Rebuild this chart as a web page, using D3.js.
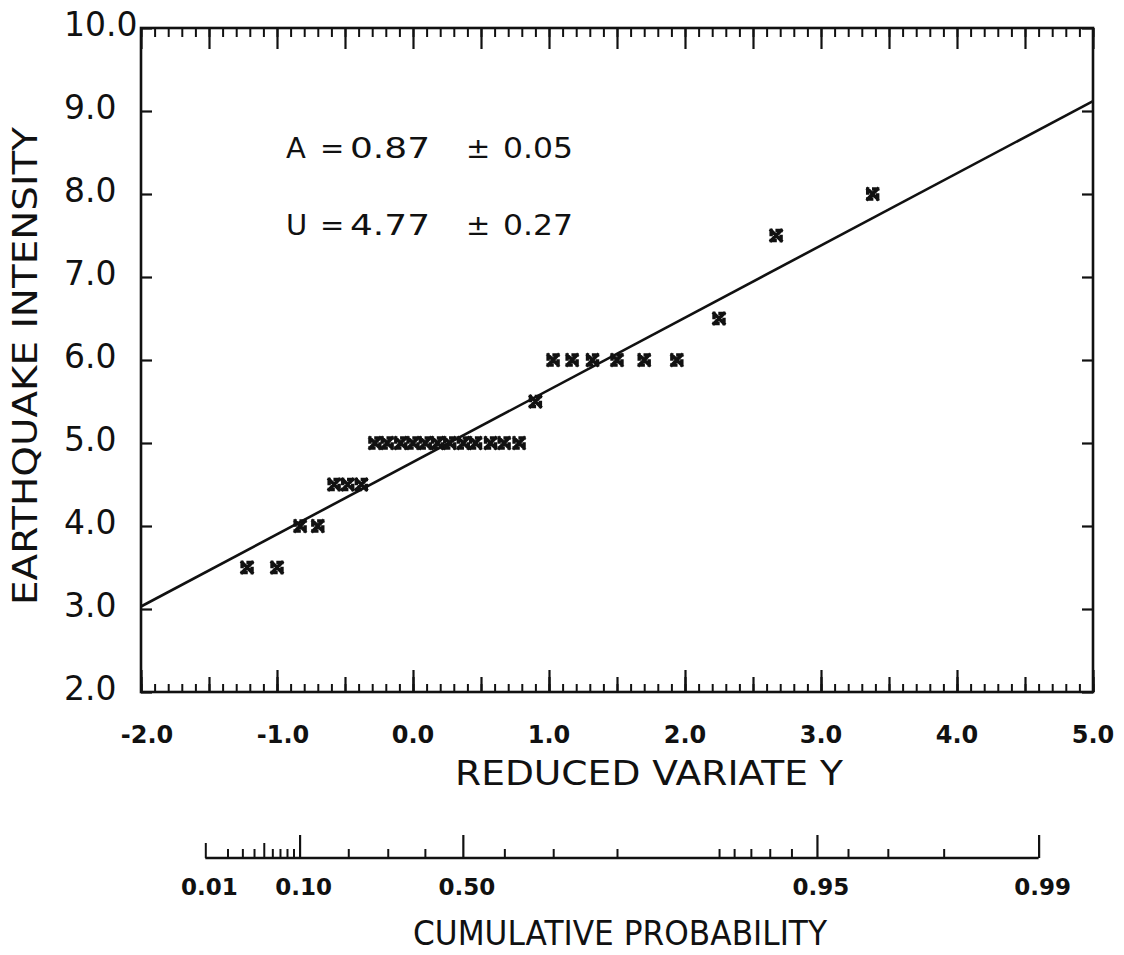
<!DOCTYPE html>
<html>
<head>
<meta charset="utf-8">
<script src="https://cdn.jsdelivr.net/npm/d3@7/dist/d3.min.js"></script>
<style>
  html, body { margin: 0; padding: 0; background: #fff; }
  svg { display: block; }
  text { font-family: "DejaVu Sans", sans-serif; fill: #111; }
</style>
</head>
<body>
<svg id="chart" width="1124" height="955"></svg>
<script>
// ---------------- DATA ----------------
const reducedVariate = [-1.22, -1.00, -0.83, -0.70, -0.58, -0.48, -0.38,
  -0.28, -0.19, -0.09, 0.00, 0.09, 0.18, 0.27, 0.37, 0.46, 0.57, 0.67, 0.78,
  0.90, 1.03, 1.17, 1.32, 1.50, 1.70, 1.94, 2.25, 2.67, 3.38];
// Earthquake intensity of each observation
const intensity = [3.5, 3.5, 4.0, 4.0, 4.5, 4.5, 4.5,
  5.0, 5.0, 5.0, 5.0, 5.0, 5.0, 5.0, 5.0, 5.0, 5.0, 5.0, 5.0,
  5.5, 6.0, 6.0, 6.0, 6.0, 6.0, 6.0, 6.5, 7.5, 8.0];
// Fitted line parameters (shown on the chart)
const fitA = 0.87, fitU = 4.77;
const annotations = ["A", "=", "0.87", "±", "0.05", "U", "=", "4.77", "±", "0.27"];
// Axis ticks and labels
const xTickValues = [-2, -1, 0, 1, 2, 3, 4, 5];
const xTickLabels = ["-2.0", "-1.0", "0.0", "1.0", "2.0", "3.0", "4.0", "5.0"];
const yTickValues = [2, 3, 4, 5, 6, 7, 8, 9, 10];
const yTickLabels = ["2.0", "3.0", "4.0", "5.0", "6.0", "7.0", "8.0", "9.0", "10.0"];
// Cumulative probability scale ticks
const probMinorTicks = [0.02, 0.03, 0.04, 0.06, 0.07, 0.08, 0.09, 0.2, 0.3, 0.4, 0.6, 0.7, 0.8,
  0.9, 0.91, 0.92, 0.93, 0.94, 0.96, 0.97, 0.98];
const probMidTicks = [0.01, 0.05];
const probMajorTicks = [0.10, 0.50, 0.95, 0.99];
const probLabelValues = [0.01, 0.10, 0.50, 0.95, 0.99];
const probLabels = ["0.01", "0.10", "0.50", "0.95", "0.99"];
const xTitle = "REDUCED VARIATE Y";
const yTitle = "EARTHQUAKE INTENSITY";
const probTitle = "CUMULATIVE PROBABILITY";

// ---------------- CHART ----------------
const svg = d3.select("#chart");
const L = 141, R = 1093, T = 28, B = 692;
const x = d3.scaleLinear().domain([-2, 5]).range([L, R]);
const y = d3.scaleLinear().domain([2, 10]).range([B, T]);
const gumbel = p => -Math.log(-Math.log(p));

function styleAxis(g, w) {
  g.select(".domain").remove();
  g.selectAll(".tick line").attr("stroke", "#111").attr("stroke-width", w);
  g.selectAll(".tick text").remove();
}

const minorX = d3.range(-20, 51).map(i => i / 10);
const halfX = d3.range(-4, 11).map(i => i / 2);

// top axis (ticks pointing down)
svg.append("g").attr("transform", `translate(0,${T})`)
  .call(d3.axisBottom(x).tickValues(minorX).tickSize(9).tickFormat(""))
  .call(g => styleAxis(g, 2));
svg.append("g").attr("transform", `translate(0,${T})`)
  .call(d3.axisBottom(x).tickValues(halfX).tickSize(21).tickFormat(""))
  .call(g => styleAxis(g, 2.2));
// bottom axis (ticks pointing up)
svg.append("g").attr("transform", `translate(0,${B})`)
  .call(d3.axisTop(x).tickValues(minorX).tickSize(8).tickFormat(""))
  .call(g => styleAxis(g, 2));
svg.append("g").attr("transform", `translate(0,${B})`)
  .call(d3.axisTop(x).tickValues(halfX).tickSize(15).tickFormat(""))
  .call(g => styleAxis(g, 2.2));
svg.append("g").attr("transform", `translate(0,${B})`)
  .call(d3.axisTop(x).tickValues(xTickValues).tickSize(22).tickFormat(""))
  .call(g => styleAxis(g, 2.2));
// left / right axes
svg.append("g").attr("transform", `translate(${L},0)`)
  .call(d3.axisRight(y).tickValues(yTickValues).tickSize(11).tickFormat(""))
  .call(g => styleAxis(g, 2.2));
svg.append("g").attr("transform", `translate(${R},0)`)
  .call(d3.axisLeft(y).tickValues(yTickValues).tickSize(11).tickFormat(""))
  .call(g => styleAxis(g, 2.2));

// frame
svg.append("rect").attr("x", L).attr("y", T).attr("width", R - L).attr("height", B - T)
  .attr("fill", "none").attr("stroke", "#111").attr("stroke-width", 2.6);

// y tick labels
svg.append("g").selectAll("text").data(yTickValues).join("text")
  .attr("x", 64).attr("y", d => y(d) + 8)
  .attr("font-size", 33)
  .text((d, i) => yTickLabels[i]);

// x tick labels
svg.append("g").selectAll("text").data(xTickValues).join("text")
  .attr("x", d => x(d) + (d < 0 ? 6 : 0)).attr("y", 743)
  .attr("text-anchor", "middle").attr("font-size", 24).attr("font-weight", "bold")
  .text((d, i) => xTickLabels[i]);

// axis titles
svg.append("text").attr("x", 455).attr("y", 785)
  .attr("font-size", 34).attr("textLength", 388).attr("lengthAdjust", "spacingAndGlyphs")
  .text(xTitle);
svg.append("text").attr("transform", "translate(37,605) rotate(-90)")
  .attr("font-size", 33).attr("textLength", 478).attr("lengthAdjust", "spacingAndGlyphs")
  .text(yTitle);

// fitted line
svg.append("line")
  .attr("x1", x(-2)).attr("y1", y(fitU + fitA * -2))
  .attr("x2", x(5)).attr("y2", y(fitU + fitA * 5))
  .attr("stroke", "#111").attr("stroke-width", 2.6);

// markers
const markerPath = "M-5,-5L5,5M-5,5L5,-5M-5,-5L-5,-1M5,5L5,1M5,-5L1,-5M-5,5L-1,5";
svg.append("g").selectAll("path").data(reducedVariate).join("path")
  .attr("transform", (d, i) => `translate(${x(d)},${y(intensity[i])})`)
  .attr("d", markerPath)
  .attr("fill", "none").attr("stroke", "#111").attr("stroke-width", 3.4)
  .attr("stroke-linecap", "square");

// annotations
const annX = [286, 320, 350, 466, 503];
const annW = [null, null, 80, null, 70];
const annRowY = [158, 235];
[0, 1].forEach(r => {
  annX.forEach((ax, j) => {
    const t = svg.append("text").attr("x", ax).attr("y", annRowY[r])
      .attr("font-size", 29)
      .text(annotations[r * 5 + j]);
    if (annW[j]) t.attr("textLength", annW[j]).attr("lengthAdjust", "spacingAndGlyphs");
  });
});

// cumulative probability axis
const PY = 858;
svg.append("line").attr("x1", x(gumbel(0.01))).attr("x2", x(gumbel(0.99)))
  .attr("y1", PY).attr("y2", PY).attr("stroke", "#111").attr("stroke-width", 2.4);
svg.append("g").attr("transform", `translate(0,${PY})`)
  .call(d3.axisTop(x).tickValues(probMinorTicks.map(gumbel)).tickSize(9).tickFormat(""))
  .call(g => styleAxis(g, 2));
svg.append("g").attr("transform", `translate(0,${PY})`)
  .call(d3.axisTop(x).tickValues(probMidTicks.map(gumbel)).tickSize(15).tickFormat(""))
  .call(g => styleAxis(g, 2));
svg.append("g").attr("transform", `translate(0,${PY})`)
  .call(d3.axisTop(x).tickValues(probMajorTicks.map(gumbel)).tickSize(23).tickFormat(""))
  .call(g => styleAxis(g, 2.2));
svg.append("g").selectAll("text").data(probLabelValues).join("text")
  .attr("x", d => x(gumbel(d)) + 4).attr("y", 895)
  .attr("text-anchor", "middle").attr("font-size", 23).attr("font-weight", "bold")
  .text((d, i) => probLabels[i]);
svg.append("text").attr("x", 413).attr("y", 945)
  .attr("font-size", 34).attr("textLength", 414).attr("lengthAdjust", "spacingAndGlyphs")
  .text(probTitle);
</script>
</body>
</html>
